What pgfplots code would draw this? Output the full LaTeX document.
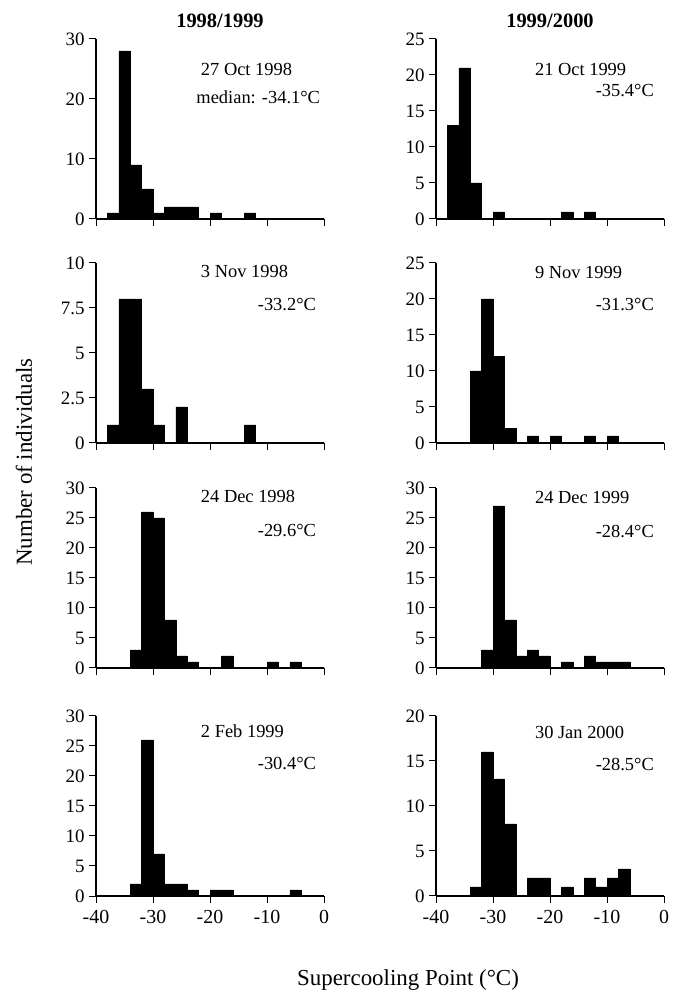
\documentclass[border=0pt]{standalone}
\usepackage{fontspec}
\setmainfont{Liberation Serif}
\usepackage{pgfplots}
\pgfplotsset{compat=1.18}
\newcommand{\annfont}{\fontsize{18.5}{18.5}\selectfont}
\pgfplotsset{
  panel/.style={
    width=228bp, height=180bp, scale only axis,
    xmin=-40, xmax=0, ymin=0,
    axis x line*=bottom, axis y line*=left,
    xtick={-40,-30,-20,-10,0},
    tick align=outside, major tick length=7bp,
    every tick/.style={black, line width=1bp},
    axis line style={line width=1.1bp, black},
    tick label style={font=\fontsize{19}{19}\selectfont},
    yticklabel style={xshift=-1bp},
    xticklabel style={yshift=-4bp, font=\fontsize{20}{20}\selectfont},
    enlargelimits=false, clip=false,
    anchor=south west,
  },
  nolab/.style={xticklabels={}},
  withlab/.style={xticklabels={-40,-30,-20,-10,0}},
  hist/.style={ybar interval, fill=black, draw=black, line width=0.4bp},
}
\begin{document}
\begin{tikzpicture}
\useasboundingbox (0,0) rectangle (684bp,995bp);
% ---------- Row 1 ----------
\begin{axis}[panel, nolab, at={(96bp,776bp)}, ymax=30,
  ytick={0,10,20,30}, yticklabels={0,10,20,30}]
\addplot[hist] coordinates {(-38,1) (-36,28) (-34,9) (-32,5) (-30,1) (-28,2) (-26,2) (-24,2) (-22,0) (-20,1) (-18,0) (-16,0) (-14,1) (-12,0)};
\node[anchor=west, font=\annfont] at (rel axis cs:0.445,0.83) {27 Oct 1998};
\node[anchor=east, font=\annfont] at (rel axis cs:0.998,0.674) {median: -34.1°C};
\end{axis}
\begin{axis}[panel, nolab, at={(436bp,776bp)}, ymax=25,
  ytick={0,5,10,15,20,25}, yticklabels={0,5,10,15,20,25}]
\addplot[hist] coordinates {(-38,13) (-36,21) (-34,5) (-32,0) (-30,1) (-28,0) (-26,0) (-24,0) (-22,0) (-20,0) (-18,1) (-16,0) (-14,1) (-12,0)};
\node[anchor=west, font=\annfont] at (rel axis cs:0.419,0.83) {21 Oct 1999};
\node[anchor=east, font=\annfont] at (rel axis cs:0.971,0.713) {-35.4°C};
\end{axis}
% ---------- Row 2 ----------
\begin{axis}[panel, nolab, at={(96bp,552bp)}, ymax=10,
  ytick={0,2.5,5,7.5,10}, yticklabels={0,2.5,5,7.5,10}]
\addplot[hist] coordinates {(-38,1) (-36,8) (-34,8) (-32,3) (-30,1) (-28,0) (-26,2) (-24,0) (-22,0) (-20,0) (-18,0) (-16,0) (-14,1) (-12,0)};
\node[anchor=west, font=\annfont] at (rel axis cs:0.445,0.955) {3 Nov 1998};
\node[anchor=east, font=\annfont] at (rel axis cs:0.98,0.77) {-33.2°C};
\end{axis}
\begin{axis}[panel, nolab, at={(436bp,552bp)}, ymax=25,
  ytick={0,5,10,15,20,25}, yticklabels={0,5,10,15,20,25}]
\addplot[hist] coordinates {(-34,10) (-32,20) (-30,12) (-28,2) (-26,0) (-24,1) (-22,0) (-20,1) (-18,0) (-16,0) (-14,1) (-12,0) (-10,1) (-8,0)};
\node[anchor=west, font=\annfont] at (rel axis cs:0.419,0.95) {9 Nov 1999};
\node[anchor=east, font=\annfont] at (rel axis cs:0.971,0.77) {-31.3°C};
\end{axis}
% ---------- Row 3 ----------
\begin{axis}[panel, nolab, at={(96bp,327bp)}, ymax=30,
  ytick={0,5,10,15,20,25,30}, yticklabels={0,5,10,15,20,25,30}]
\addplot[hist] coordinates {(-34,3) (-32,26) (-30,25) (-28,8) (-26,2) (-24,1) (-22,0) (-20,0) (-18,2) (-16,0) (-14,0) (-12,0) (-10,1) (-8,0) (-6,1) (-4,0)};
\node[anchor=west, font=\annfont] at (rel axis cs:0.445,0.955) {24 Dec 1998};
\node[anchor=east, font=\annfont] at (rel axis cs:0.98,0.765) {-29.6°C};
\end{axis}
\begin{axis}[panel, nolab, at={(436bp,327bp)}, ymax=30,
  ytick={0,5,10,15,20,25,30}, yticklabels={0,5,10,15,20,25,30}]
\addplot[hist] coordinates {(-32,3) (-30,27) (-28,8) (-26,2) (-24,3) (-22,2) (-20,0) (-18,1) (-16,0) (-14,2) (-12,1) (-10,1) (-8,1) (-6,0)};
\node[anchor=west, font=\annfont] at (rel axis cs:0.419,0.95) {24 Dec 1999};
\node[anchor=east, font=\annfont] at (rel axis cs:0.971,0.76) {-28.4°C};
\end{axis}
% ---------- Row 4 ----------
\begin{axis}[panel, withlab, at={(96bp,99bp)}, ymax=30,
  ytick={0,5,10,15,20,25,30}, yticklabels={0,5,10,15,20,25,30}]
\addplot[hist] coordinates {(-34,2) (-32,26) (-30,7) (-28,2) (-26,2) (-24,1) (-22,0) (-20,1) (-18,1) (-16,0) (-14,0) (-12,0) (-10,0) (-8,0) (-6,1) (-4,0)};
\node[anchor=west, font=\annfont] at (rel axis cs:0.445,0.917) {2 Feb 1999};
\node[anchor=east, font=\annfont] at (rel axis cs:0.98,0.735) {-30.4°C};
\end{axis}
\begin{axis}[panel, withlab, at={(436bp,99bp)}, ymax=20,
  ytick={0,5,10,15,20}, yticklabels={0,5,10,15,20}]
\addplot[hist] coordinates {(-34,1) (-32,16) (-30,13) (-28,8) (-26,0) (-24,2) (-22,2) (-20,0) (-18,1) (-16,0) (-14,2) (-12,1) (-10,2) (-8,3) (-6,0)};
\node[anchor=west, font=\annfont] at (rel axis cs:0.419,0.906) {30 Jan 2000};
\node[anchor=east, font=\annfont] at (rel axis cs:0.971,0.73) {-28.5°C};
\end{axis}
% ---------- Titles and labels ----------
\node[font=\fontsize{20.5}{20.5}\bfseries\selectfont] at (220bp,974bp) {1998/1999};
\node[font=\fontsize{20.5}{20.5}\bfseries\selectfont] at (550bp,974bp) {1999/2000};
\node[anchor=base, font=\fontsize{23}{23}\selectfont] at (408bp,10bp) {Supercooling Point (°C)};
\node[rotate=90, font=\fontsize{23}{23}\selectfont] at (24bp,533bp) {Number of individuals};
\end{tikzpicture}
\end{document}
